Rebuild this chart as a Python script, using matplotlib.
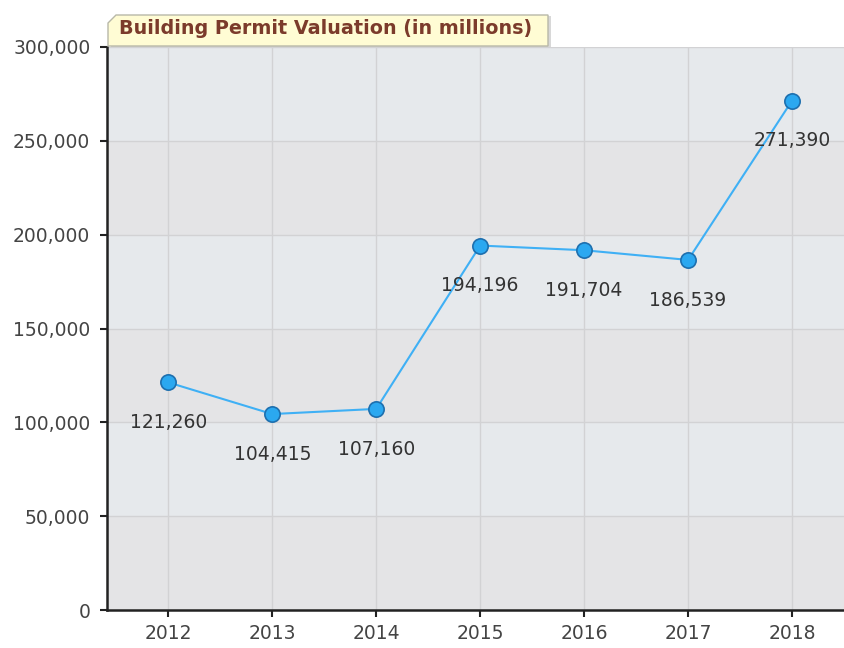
import matplotlib.pyplot as plt
from matplotlib.patches import Polygon

years = [2012, 2013, 2014, 2015, 2016, 2017, 2018]
values = [121260, 104415, 107160, 194196, 191704, 186539, 271390]
labels = ["121,260", "104,415", "107,160", "194,196", "191,704", "186,539", "271,390"]
yticks = [0, 50000, 100000, 150000, 200000, 250000, 300000]
title = "Building Permit Valuation (in millions)"

W, H = 844, 648
fig = plt.figure(figsize=(W / 100, H / 100), dpi=100)
ax = fig.add_axes([107 / W, 1 - 610 / H, (W - 107) / W, (610 - 47) / H])

ax.set_xlim(2011.41, 2018.5)
ax.set_ylim(0, 300000)
ax.set_facecolor("#e6e9ec")

# alternating horizontal bands
for i, lo in enumerate(yticks[:-1]):
    c = "#e4e4e6" if i % 2 == 0 else "#e6e9ec"
    ax.axhspan(lo, lo + 50000, color=c, zorder=0, lw=0)

ax.grid(True, color="#d2d2d4", lw=1, zorder=1)
ax.set_axisbelow(True)

ax.plot(years, values, color="#3fb0f5", lw=1.5, zorder=3)
ax.plot(years, values, "o", ms=11, mfc="#2ba8f0", mec="#1d6fae", mew=1.2, zorder=4)

for x, y, s in zip(years, values, labels):
    ax.annotate(s, (x, y), xytext=(0, -29), textcoords="offset points",
                ha="center", va="center", fontsize=13.5, color="#333333", zorder=5)

ax.set_xticks(years)
ax.set_yticks(yticks)
ax.set_yticklabels([f"{v:,}" for v in yticks])
ax.tick_params(axis="both", labelsize=13.5, labelcolor="#444444", color="#222222",
               length=5, width=1.5, direction="out")
ax.tick_params(axis="x", pad=5)
ax.tick_params(axis="y", pad=7)

for side in ("top", "right"):
    ax.spines[side].set_visible(False)
for side in ("left", "bottom"):
    ax.spines[side].set_color("#222222")
    ax.spines[side].set_linewidth(1.8)

# title tab
tx0, tx1, ty0, ty1 = 108, 548, 46, 15
pts = [(tx0, ty0), (tx0, ty1 + 8), (tx0 + 8, ty1), (tx1, ty1), (tx1, ty0)]
fig.patches.append(Polygon([(x / W, 1 - y / H) for x, y in [(p[0] + 3, p[1] + 1) for p in pts]],
                           closed=True, transform=fig.transFigure,
                           facecolor="#d8d8d8", edgecolor="none", zorder=1))
fig.patches.append(Polygon([(x / W, 1 - y / H) for x, y in pts], closed=True,
                           transform=fig.transFigure, facecolor="#fffcd4",
                           edgecolor="#b8b8a8", lw=1, zorder=2))
fig.text((tx0 + 11) / W, 1 - 28 / H, title, fontsize=13.8, fontweight="bold",
         color="#7b3b2b", va="center", ha="left", zorder=3)

fig.savefig("out.png", dpi=100)
